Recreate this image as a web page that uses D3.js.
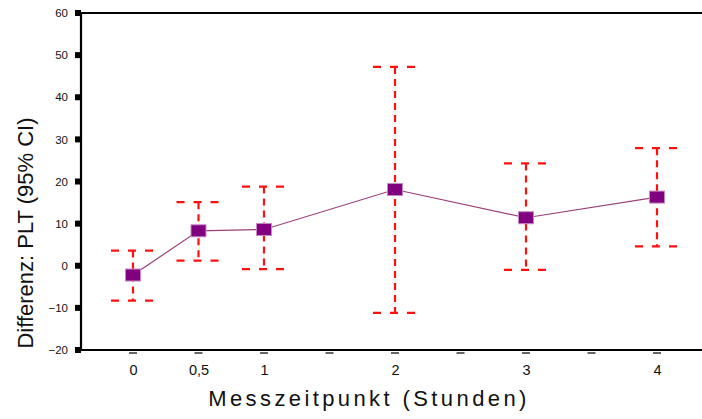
<!DOCTYPE html>
<html>
<head>
<meta charset="utf-8">
<script src="https://cdn.jsdelivr.net/npm/d3@7"></script>
<style>
body { margin: 0; background: #fff; }
svg { display: block; font-family: Arial, "Liberation Sans", sans-serif; }
</style>
</head>
<body>
<div id="chart"></div>
<script>
// time points (hours) and the 95% CI of the PLT difference
var hours = [0, 0.5, 1, 2, 3, 4];
var means = [-2.2, 8.3, 8.6, 18.1, 11.4, 16.3];
var upper = [3.6, 15.1, 18.8, 47.2, 24.3, 27.9];
var lower = [-8.3, 1.2, -0.8, -11.2, -1.0, 4.6];

var xTicks = [0, 0.5, 1, 1.5, 2, 2.5, 3, 3.5, 4];
var xTickLabels = {0: "0", 0.5: "0,5", 1: "1", 2: "2", 3: "3", 4: "4"};
var yTicks = [-20, -10, 0, 10, 20, 30, 40, 50, 60];

var labelX = "Messzeitpunkt (Stunden)";
var labelY = "Differenz: PLT (95% CI)";

var W = 702, H = 419;
var axisLeft = 81, axisTop = 13, axisBottom = 350;

var xS = d3.scaleLinear().domain([0, 4]).range([133, 657]);
var yS = d3.scaleLinear().domain([-20, 60]).range([axisBottom, axisTop]);

var svg = d3.select("#chart").append("svg")
	.attr("width", W)
	.attr("height", H);

// frame: left, top and bottom lines only
svg.append("path")
	.attr("d", "M" + W + "," + axisTop + "H" + axisLeft + "V" + axisBottom + "H" + W)
	.attr("fill", "none")
	.attr("stroke", "#000")
	.attr("stroke-width", 2.2);

// y axis labels
var yAxis = d3.axisLeft(yS)
	.tickValues(yTicks)
	.tickSize(0)
	.tickPadding(13);

var gy = svg.append("g")
	.attr("transform", "translate(" + axisLeft + ",0)")
	.call(yAxis);
gy.select(".domain").remove();
gy.selectAll("text")
	.attr("font-size", 11.5)
	.attr("font-family", "Arial, 'Liberation Sans', sans-serif")
	.attr("fill", "#111");

// square tick marks
svg.selectAll(".ytick").data(yTicks)
	.enter().append("rect")
	.attr("class", "ytick")
	.attr("x", axisLeft - 6)
	.attr("y", function(d) { return yS(d) - 3; })
	.attr("width", 6)
	.attr("height", 6)
	.attr("fill", "#000");

// x axis: short dashes below the line, labels only on measured points
var xAxis = d3.axisBottom(xS)
	.tickValues(xTicks)
	.tickSize(0)
	.tickPadding(15)
	.tickFormat(function(d) { return xTickLabels[d] || ""; });

var gx = svg.append("g")
	.attr("transform", "translate(0," + axisBottom + ")")
	.call(xAxis);
gx.select(".domain").remove();
gx.selectAll("text")
	.attr("font-size", 14.5)
	.attr("font-family", "Arial, 'Liberation Sans', sans-serif")
	.attr("fill", "#111");

svg.selectAll(".xtick").data(xTicks)
	.enter().append("line")
	.attr("class", "xtick")
	.attr("x1", function(d) { return xS(d) - 4; })
	.attr("x2", function(d) { return xS(d) + 4; })
	.attr("y1", axisBottom + 3)
	.attr("y2", axisBottom + 3)
	.attr("stroke", "#333")
	.attr("stroke-width", 1.5);

// error bars
var bars = svg.selectAll(".err").data(hours)
	.enter().append("g")
	.attr("class", "err")
	.attr("stroke", "#ff1010")
	.attr("stroke-width", 2.2)
	.attr("fill", "none");

bars.append("line")
	.attr("x1", function(d) { return xS(d); })
	.attr("x2", function(d) { return xS(d); })
	.attr("y1", function(d, i) { return yS(upper[i]); })
	.attr("y2", function(d, i) { return yS(lower[i]); })
	.attr("stroke-dasharray", "7,5");

[upper, lower].forEach(function(arr) {
	bars.append("line")
		.attr("x1", function(d) { return xS(d) - 22; })
		.attr("x2", function(d) { return xS(d) + 21; })
		.attr("y1", function(d, i) { return yS(arr[i]); })
		.attr("y2", function(d, i) { return yS(arr[i]); })
		.attr("stroke-dasharray", "8,9");
});

// mean line
var line = d3.line()
	.x(function(d) { return xS(d); })
	.y(function(d, i) { return yS(means[i]); });

svg.append("path")
	.datum(hours)
	.attr("d", line)
	.attr("fill", "none")
	.attr("stroke", "#9b3f78")
	.attr("stroke-width", 1.2);

svg.selectAll(".pt").data(hours)
	.enter().append("rect")
	.attr("class", "pt")
	.attr("x", function(d) { return xS(d) - 7.5; })
	.attr("y", function(d, i) { return yS(means[i]) - 6; })
	.attr("width", 15)
	.attr("height", 12)
	.attr("fill", "#800080")
	.attr("stroke", "#c58ac5")
	.attr("stroke-width", 1);

// axis titles
svg.append("text")
	.attr("x", 369)
	.attr("y", 406)
	.attr("text-anchor", "middle")
	.attr("font-size", 22)
	.attr("letter-spacing", "3.4px")
	.attr("fill", "#111")
	.text(labelX);

svg.append("text")
	.attr("transform", "translate(33,233) rotate(-90)")
	.attr("text-anchor", "middle")
	.attr("font-size", 22)
	.attr("fill", "#111")
	.text(labelY);
</script>
</body>
</html>
